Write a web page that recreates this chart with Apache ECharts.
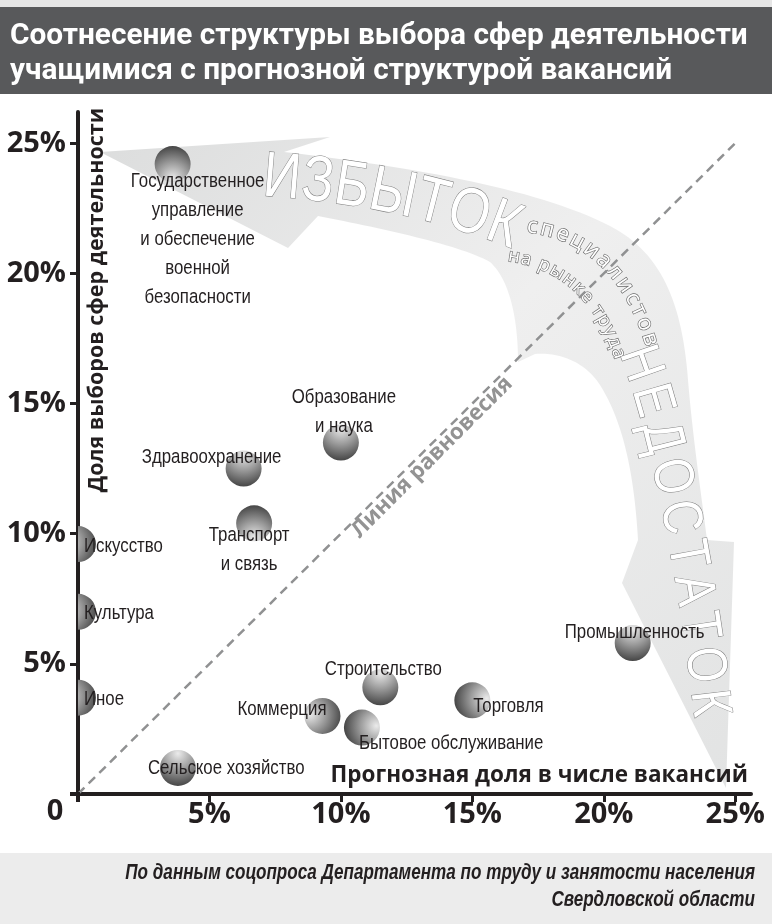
<!DOCTYPE html>
<html><head><meta charset="utf-8">
<script src="https://cdn.jsdelivr.net/npm/echarts@6/dist/echarts.min.js"></script>
<style>html,body{margin:0;padding:0;background:#fff}#c{width:772px;height:924px}</style>
</head><body><div id="c"></div>
<script>
// ---------- data ----------
const categories = [
  'Государственное\nуправление\nи обеспечение\nвоенной\nбезопасности',
  'Образование\nи наука',
  'Здравоохранение',
  'Транспорт\nи связь',
  'Искусство',
  'Культура',
  'Иное',
  'Сельское хозяйство',
  'Коммерция',
  'Строительство',
  'Бытовое обслуживание',
  'Торговля',
  'Промышленность'
];
const vacancyShare = [3.6, 10.0, 6.3, 6.7, 0, 0, 0, 3.8, 9.3, 11.5, 10.8, 15.0, 21.1]; // x, %
const choiceShare  = [24.2, 13.5, 12.5, 10.4, 9.6, 7.0, 3.7, 1.0, 3.0, 4.1, 2.55, 3.6, 5.8]; // y, %
const xTicks = [5, 10, 15, 20, 25];
const yTicks = [5, 10, 15, 20, 25];
const equalityLine = [[0, 0], [25, 25]];
const titleLines = ['Соотнесение структуры выбора сфер деятельности', 'учащимися с прогнозной структурой вакансий'];
const xName = 'Прогнозная доля в числе вакансий';
const yName = 'Доля выборов сфер деятельности';
const lineName = 'Линия равновесия';
const sourceText = 'По данным соцопроса Департамента по труду и занятости населения\nСвердловской области';

// ---------- styling / layout (not data) ----------
const NARROW = "'Liberation Sans',Arial,sans-serif";
const NARROW_SCALE = 0.82;
const DARK = '#231f20';
const R = 18;
const labelLayout = [
  {dx: 25, dy: 3, align: 'center', va: 'top'},
  {dx: 3, dy: -2, align: 'center', va: 'bottom'},
  {dx: -32, dy: -11, align: 'center', va: 'middle'},
  {dx: -5, dy: -2, align: 'center', va: 'top'},
  {dx: 6, dy: 2, align: 'left', va: 'middle'},
  {dx: 6, dy: 2, align: 'left', va: 'middle'},
  {dx: 6, dy: 2, align: 'left', va: 'middle'},
  {dx: -30, dy: 0, align: 'left', va: 'middle'},
  {dx: 4, dy: -7, align: 'right', va: 'middle'},
  {dx: 3, dy: -18, align: 'center', va: 'middle'},
  {dx: -3, dy: 16, align: 'left', va: 'middle'},
  {dx: 1, dy: 6, align: 'left', va: 'middle'},
  {dx: 2, dy: -11, align: 'center', va: 'middle'}
];
const sphereShade = ['up','down','down','up','right','right','right','down','right','down','left','left','down'];

function sphereFill(dir) {
  const c = {down:[0.5,0.1], up:[0.5,0.9], left:[0.9,0.45], right:[0.15,0.45]}[dir];
  return new echarts.graphic.RadialGradient(c[0], c[1], 1.0, [
    {offset: 0, color: '#ebebeb'},
    {offset: 0.45, color: '#9a9a9a'},
    {offset: 1, color: '#333333'}
  ]);
}

function bez(P, t) {
  const u = 1 - t;
  return [
    u*u*u*P[0][0] + 3*u*u*t*P[1][0] + 3*u*t*t*P[2][0] + t*t*t*P[3][0],
    u*u*u*P[0][1] + 3*u*u*t*P[1][1] + 3*u*t*t*P[2][1] + t*t*t*P[3][1]
  ];
}
function textOnPath(str, P, size, family, weight, sx, stroke, lw, z) {
  const ctx = document.createElement('canvas').getContext('2d');
  ctx.font = weight + ' ' + size + 'px ' + family;
  const N = 800, pts = [], cum = [0];
  for (let i = 0; i <= N; i++) {
    pts.push(bez(P, i / N));
    if (i > 0) cum.push(cum[i-1] + Math.hypot(pts[i][0]-pts[i-1][0], pts[i][1]-pts[i-1][1]));
  }
  const L = cum[N];
  const chars = Array.from(str);
  const w = chars.map(c => ctx.measureText(c).width * sx);
  const tot = w.reduce((a, b) => a + b, 0);
  const gap = chars.length > 1 ? (L - tot) / (chars.length - 1) : 0;
  let s = 0; const out = [];
  chars.forEach((c, i) => {
    const mid = s + w[i] / 2; s += w[i] + gap;
    if (c === ' ') return;
    let k = cum.findIndex(v => v >= mid); if (k < 1) k = 1;
    const p = pts[k], q = pts[k-1];
    const ang = Math.atan2(p[1]-q[1], p[0]-q[0]);
    out.push({type: 'text', x: p[0], y: p[1], rotation: -ang, scaleX: sx, z: z, silent: true,
      style: {text: c, fontSize: size, fontFamily: family, fontWeight: weight,
        fill: '#ffffff', stroke: stroke, lineWidth: lw, align: 'center', verticalAlign: 'middle'}});
  });
  return out;
}

// decorative arrow outline (pixel space), sampled into a polygon
const arrowSegs = [
  ['M',100,152],['L',330,137],['L',284,152],
  ['C',420,168,540,190,610,226],['C',660,252,682,300,688,380],['C',693,440,702,500,707,540],
  ['L',734,542],['L',726,788],['L',622,583],['L',638,540],
  ['C',634,470,622,420,600,385],['C',585,362,560,352,535,354],['L',518,362],
  ['C',518,320,510,280,490,262],['C',460,245,380,228,318,216],['L',288,248]
];
function samplePath(segs) {
  const out = []; let cur = null;
  segs.forEach(s => {
    if (s[0] === 'M' || s[0] === 'L') { cur = [s[1], s[2]]; out.push(cur); }
    else {
      const P = [cur, [s[1], s[2]], [s[3], s[4]], [s[5], s[6]]];
      for (let i = 1; i <= 30; i++) out.push(bez(P, i / 30));
      cur = [s[5], s[6]];
    }
  });
  return out;
}

const chart = echarts.init(document.getElementById('c'), null, {renderer: 'canvas'});
const pts = categories.map((n, i) => [vacancyShare[i], choiceShare[i]]);

const axisLabelStyle = {fontFamily: "'Open Sans',sans-serif", fontWeight: 'bold', fontSize: 29, color: DARK,
  formatter: v => v + '%'};

const option = {
  animation: false,
  backgroundColor: '#ffffff',
  grid: {left: 78, right: 21, top: 112, bottom: 130, containLabel: false},
  xAxis: {type: 'value', min: 0, max: 25.6, interval: 5,
    axisLine: {show: true, lineStyle: {color: DARK, width: 4}},
    axisTick: {show: true, length: 8, lineStyle: {color: DARK, width: 3}, customValues: xTicks},
    axisLabel: Object.assign({margin: 6, customValues: xTicks}, axisLabelStyle),
    splitLine: {show: false}},
  yAxis: {type: 'value', min: 0, max: 26.2, interval: 5,
    axisLine: {show: true, lineStyle: {color: DARK, width: 4}},
    axisTick: {show: true, length: 8, lineStyle: {color: DARK, width: 3}, customValues: yTicks},
    axisLabel: Object.assign({margin: 12, customValues: yTicks}, axisLabelStyle),
    splitLine: {show: false}},
  series: [
    {type: 'line', data: equalityLine, symbol: 'none', silent: true, z: 2,
      lineStyle: {color: '#909192', width: 2.5, type: [9, 6]}},
    {type: 'custom', data: pts, clip: true, z: 3, silent: true,
      renderItem: (params, api) => {
        const p = api.coord([api.value(0), api.value(1)]);
        const cs = params.coordSys;
        return {type: 'group', children: [{type: 'circle', shape: {cx: p[0], cy: p[1], r: R},
          style: {fill: sphereFill(sphereShade[params.dataIndex])}}],
          clipPath: {type: 'rect', shape: {x: cs.x, y: cs.y, width: cs.width, height: cs.height}}};
      }},
    {type: 'custom', data: pts, clip: false, z: 4, silent: true,
      renderItem: (params, api) => {
        const i = params.dataIndex;
        const p = api.coord([api.value(0), api.value(1)]);
        const l = labelLayout[i];
        return {type: 'text', x: p[0] + l.dx, y: p[1] + l.dy, scaleX: NARROW_SCALE,
          style: {text: categories[i], fontFamily: NARROW, fontSize: 20.5, fill: DARK,
            align: l.align, verticalAlign: l.va, lineHeight: 29}};
      }}
  ]
};
chart.setOption(option);

const mid = chart.convertToPixel({gridIndex: 0}, [13.2, 13.2]);

const g = [
  {type: 'rect', shape: {x: 0, y: 0, width: 772, height: 7}, style: {fill: '#e6e6e6'}, z: 0, silent: true},
  {type: 'rect', shape: {x: 0, y: 7, width: 772, height: 87}, style: {fill: '#58595b'}, z: 0, silent: true},
  {type: 'text', x: 10, y: 37, z: 5, silent: true, style: {text: titleLines[0], fill: '#ffffff',
    fontFamily: "Roboto,sans-serif", fontWeight: 'bold', fontSize: 29.8, verticalAlign: 'middle'}},
  {type: 'text', x: 10, y: 72, z: 5, silent: true, style: {text: titleLines[1], fill: '#ffffff',
    fontFamily: "Roboto,sans-serif", fontWeight: 'bold', fontSize: 29.8, verticalAlign: 'middle'}},
  {type: 'rect', shape: {x: 0, y: 853, width: 772, height: 71}, style: {fill: '#ececec'}, z: 0, silent: true},
  {type: 'text', x: 755, y: 887, scaleX: 0.8, z: 5, silent: true, style: {text: sourceText, fill: DARK, align: 'right',
    verticalAlign: 'middle', lineHeight: 27, fontFamily: NARROW, fontWeight: 'bold', fontStyle: 'italic', fontSize: 21.4}},
  {type: 'polygon', shape: {points: samplePath(arrowSegs)}, z: 0, silent: true,
    style: {fill: new echarts.graphic.LinearGradient(0, 0, 1, 1, [
      {offset: 0, color: '#dcdddd'}, {offset: 0.45, color: '#efefef'}, {offset: 1, color: '#e2e3e3'}])}},
  {type: 'line', shape: {x1: 70, y1: 794, x2: 80, y2: 794}, style: {stroke: DARK, lineWidth: 4}, z: 6, silent: true},
  {type: 'line', shape: {x1: 78, y1: 792, x2: 78, y2: 802}, style: {stroke: DARK, lineWidth: 4}, z: 6, silent: true},
  {type: 'text', x: 55, y: 812, z: 5, silent: true, style: {text: '0', fill: DARK, align: 'center', verticalAlign: 'middle',
    fontFamily: "'Open Sans',sans-serif", fontWeight: 'bold', fontSize: 29}},
  {type: 'text', x: 97, y: 300, rotation: Math.PI / 2, z: 5, silent: true, style: {text: yName, fill: DARK,
    align: 'center', verticalAlign: 'middle', fontFamily: "'Open Sans',sans-serif", fontWeight: 'bold', fontSize: 21.5}},
  {type: 'text', x: 748, y: 776, z: 5, silent: true, style: {text: xName, fill: DARK,
    align: 'right', verticalAlign: 'middle', fontFamily: "'Open Sans',sans-serif", fontWeight: 'bold', fontSize: 22.5}},
  {type: 'text', x: mid[0] + 7, y: mid[1] + 7, rotation: Math.PI / 4, z: 5, silent: true, style: {text: lineName,
    fill: '#939393', align: 'center', verticalAlign: 'middle', fontFamily: "'Open Sans',sans-serif", fontWeight: 'bold', fontSize: 22}}
];
textOnPath('ИЗБЫТОК', [[263,178],[345,183],[440,200],[518,232]], 64, NARROW, 'normal', NARROW_SCALE, '#7d7d7d', 1.1, 1).forEach(e => g.push(e));
textOnPath('специалистов', [[527,226],[585,232],[630,270],[652,345]], 22, "'Open Sans',sans-serif", 'normal', 1, '#6a6a6a', 1.3, 1).forEach(e => g.push(e));
textOnPath('на рынке труда', [[508,256],[560,262],[600,295],[620,358]], 18.5, "'Open Sans',sans-serif", 'normal', 1, '#6a6a6a', 1.3, 1).forEach(e => g.push(e));
textOnPath('НЕДОСТАТОК', [[634,348],[662,420],[692,560],[710,716]], 56, NARROW, 'normal', NARROW_SCALE, '#7d7d7d', 1.1, 1).forEach(e => g.push(e));

chart.setOption({graphic: g});
</script>
</body></html>
